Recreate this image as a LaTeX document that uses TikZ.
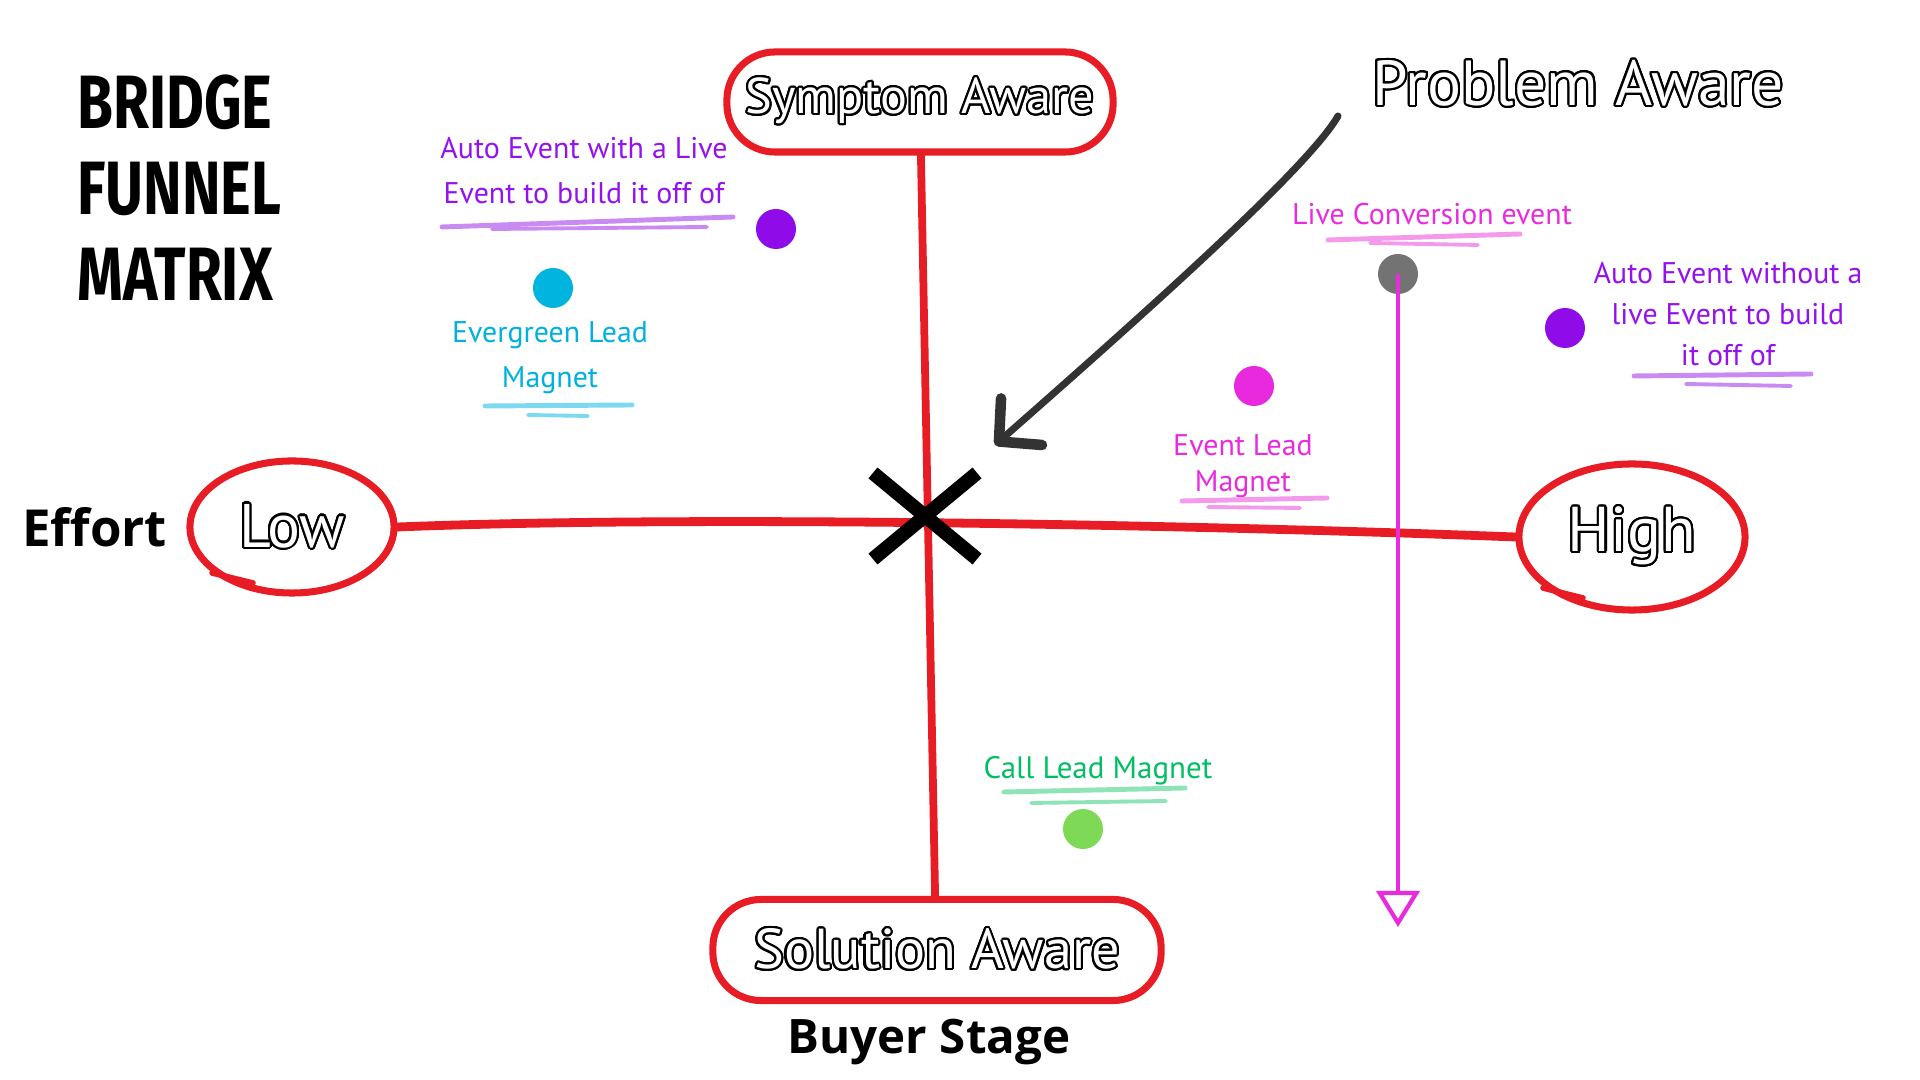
\documentclass[tikz,border=0pt]{standalone}
\usepackage{fontspec}
\usepackage{contour}
\usepackage{tikz}
\usetikzlibrary{arrows.meta,
		shapes.geometric,
		shapes.misc,
		positioning}
\newfontfamily\titlefont{Fira Sans}[FakeStretch=0.77]
\newfontfamily\axisfont{Open Sans}
\newfontfamily\handfont{PT Sans}
\definecolor{axisred}{HTML}{E81C24}
\definecolor{arrowgray}{HTML}{333333}
\definecolor{eventpurple}{HTML}{9412EE}
\definecolor{evergreen}{HTML}{00B1E0}
\definecolor{eventpink}{HTML}{E82CDD}
\definecolor{callgreen}{HTML}{00BF63}
\definecolor{dotpurple}{HTML}{8F0CE9}
\definecolor{dotcyan}{HTML}{00B4E0}
\definecolor{dotpink}{HTML}{E829DD}
\definecolor{dotgray}{HTML}{737373}
\definecolor{dotgreen}{HTML}{7ED957}
\definecolor{lightpurple}{HTML}{C98AF2}
\definecolor{lightcyan}{HTML}{7DD9F2}
\definecolor{lightpink}{HTML}{F39BEA}
\definecolor{lightgreen}{HTML}{8EE3B8}
\contourlength{0.6pt}
\contournumber{24}
\begin{document}
\begin{tikzpicture}[
				x=0.01cm, y=-0.01cm,
				thick,
				bubble node/.style={draw=axisred,line width=2pt,text=white,inner sep=0pt},
				stage node/.style={bubble node,rectangle,rounded corners=0.48cm},
				level node/.style={bubble node,ellipse},
				dot node/.style={circle,inner sep=0pt,minimum size=0.4cm},
				tag node/.style={font=\handfont\fontsize{8.5}{12.8}\selectfont,align=center,anchor=north,inner sep=0pt},
				mark line/.style={line width=1.4pt,line cap=round}
				]
				\useasboundingbox (0,0) rectangle (1920,1080);
				\node[anchor=north west,align=left,inner sep=0pt,font=\titlefont\bfseries\fontsize{21.5}{24.5}\selectfont] (title) at (76,73) {BRIDGE\\FUNNEL\\MATRIX};
				\node[stage node,minimum width=3.86cm,minimum height=1cm,font=\handfont\fontsize{14.3}{17}\selectfont] (symptom) at (920,102) {\contour{black}{Symptom Aware}};
				\node[stage node,minimum width=4.48cm,minimum height=1.01cm,font=\handfont\fontsize{16}{19}\selectfont] (solution) at (937,950) {\contour{black}{Solution Aware}};
				\node[level node,minimum width=2.04cm,minimum height=1.32cm,font=\handfont\fontsize{17.5}{20}\selectfont] (low) at (292,527) {\contour{black}{Low}};
				\node[level node,minimum width=2.26cm,minimum height=1.46cm,font=\handfont\fontsize{18}{21}\selectfont] (high) at (1632,537) {\contour{black}{High}};
				\node[text=white,inner sep=0pt,font=\handfont\fontsize{18.1}{22}\selectfont] (problem) at (1578,84) {\contour{black}{Problem Aware}};
				\node[inner sep=0pt,font=\axisfont\bfseries\fontsize{14.5}{17}\selectfont] (effort) [left=0.18cm of low] {Effort};
				\node[inner sep=0pt,font=\axisfont\bfseries\fontsize{13.5}{16}\selectfont] (buyer) [below=0.14cm of solution, xshift=-0.08cm] {Buyer Stage};
				\draw[axisred,line width=2.2pt,line cap=round] (symptom.-89) -- (solution.92);
				\draw[axisred,line width=2.5pt,line cap=round] (low.east) .. controls (700,515) and (1200,525) .. (high.west);
				\draw[axisred,line width=1.6pt,line cap=round] (212,573) -- (253,583);
				\draw[axisred,line width=1.6pt,line cap=round] (1543,588) -- (1583,598);
				\node[tag node,text=eventpurple] (autolive) at (584,136) {Auto Event with a Live\\Event to build it off of};
				\node[tag node,text=evergreen] (evergreen) at (550,320) {Evergreen Lead\\Magnet};
				\node[tag node,text=eventpink,font=\handfont\fontsize{8.5}{10.2}\selectfont] (eventlead) at (1243,433) {Event Lead\\Magnet};
				\node[tag node,text=eventpink] (liveconv) at (1432,202) {Live Conversion event};
				\node[tag node,text=eventpurple,font=\handfont\fontsize{8.5}{11.7}\selectfont] (autonolive) at (1728,261) {Auto Event without a\\live Event to build\\it off of};
				\node[tag node,text=callgreen,font=\handfont\fontsize{8.8}{12.8}\selectfont] (calllead) at (1098,755) {Call Lead Magnet};
				\draw[mark line,lightpurple] (442,227) -- (733,217);
				\draw[mark line,lightpurple,line width=1.1pt] (492,229) -- (707,227);
				\draw[mark line,lightcyan] (485,406) -- (632,405);
				\draw[mark line,lightcyan,line width=1.1pt] (528,415) -- (588,416);
				\draw[mark line,lightpink] (1182,501) -- (1327,498);
				\draw[mark line,lightpink,line width=1.1pt] (1208,507) -- (1300,508);
				\draw[mark line,lightpink] (1328,240) -- (1520,234);
				\draw[mark line,lightpink,line width=1.1pt] (1370,243) -- (1478,245);
				\draw[mark line,lightpurple] (1634,376) -- (1811,374);
				\draw[mark line,lightpurple,line width=1.1pt] (1686,384) -- (1791,386);
				\draw[mark line,lightgreen] (1004,792) -- (1185,788);
				\draw[mark line,lightgreen,line width=1.1pt] (1031,803) -- (1166,801);
				\node[dot node,fill=dotpurple] (autolivedot) at (776,229) {};
				\node[dot node,fill=dotcyan] (evergreendot) at (553,288) {};
				\node[dot node,fill=dotpink] (eventleaddot) at (1254,386) {};
				\node[dot node,fill=dotgray] (livedot) at (1398,274) {};
				\node[dot node,fill=dotpurple] (autonolivedot) at (1565,328) {};
				\node[dot node,fill=dotgreen] (calldot) at (1083,829) {};
				\coordinate (pinkend) at (1398,927);
				\draw[eventpink,line width=0.9pt,-{Triangle[open,length=0.36cm,width=0.43cm,line width=1.2pt]}] (livedot.center) -- (pinkend);
				\coordinate (arrowstart) at (1338,116);
				\coordinate (arrowend) at (995,445);
				\draw[arrowgray,line width=2pt,line cap=round,-{Straight Barb[length=0.3cm,width=0.62cm,line width=3pt,round]}] (arrowstart) .. controls (1310,165) and (1160,300) .. (arrowend);
				\node[cross out,draw=black,line width=4pt,minimum width=0.9cm,minimum height=0.72cm,inner sep=0pt] (mark) at (925,516) {};
		\end{tikzpicture}
\end{document}
